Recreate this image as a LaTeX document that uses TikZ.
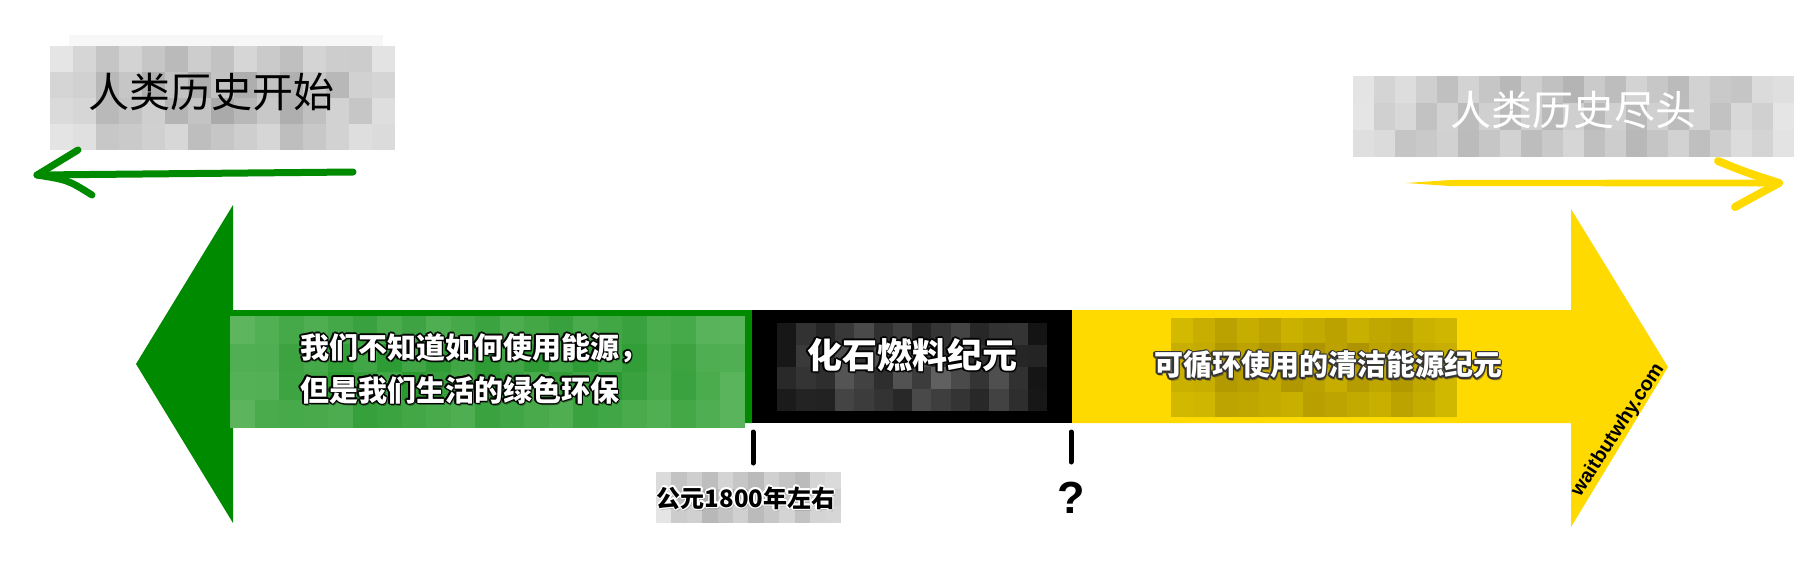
\documentclass[tikz,border=0pt]{standalone}
\usepackage{fontspec}
\setmainfont{Liberation Sans}
\newfontfamily\cjk{Noto Sans CJK SC}
\definecolor{grn}{HTML}{008A00}
\definecolor{ylw}{HTML}{FFDA00}
\definecolor{gL}{HTML}{66BB66}
\definecolor{gD}{HTML}{23952A}
\definecolor{kL}{HTML}{000000}
\definecolor{kD}{HTML}{6A6A6A}
\definecolor{yL}{HTML}{DCC300}
\definecolor{yD}{HTML}{A88F00}
\definecolor{wL}{HTML}{F2F2F2}
\definecolor{wD}{HTML}{A4A4A4}
% mosaic: x0,y0,cellw,cellh,imax,jmax,light,dark,seed
\newcommand\mosaic[9]{%
  \foreach \i in {0,...,#5}{\foreach \j in {0,...,#6}{%
    \pgfmathtruncatemacro\rr{mod(\i*37+\j*71+\i*\j*13+#9,100)}%
    \pgfmathsetmacro\uu{(\i+0.5)/(#5+1)*2-1}%
    \pgfmathsetmacro\vv{(\j+0.5)/(#6+1)*2-1}%
    \pgfmathtruncatemacro\pp{(0.55*\rr+45)*(1-0.75*\uu*\uu*\uu*\uu)*(1-0.45*\vv*\vv)}%
    \fill[#8!\pp!#7] (#1+\i*#3,#2+\j*#4) rectangle ++(#3,#4);
  }}}
% halo text: name, position, font, text colour, halo colour, text, anchor
\newcommand\halotext[7]{%
  \node[font=#3,text=#5,opacity=0.45,inner sep=0,anchor=#7,shift={(1.5pt,-2.5pt)}] at (#2) {#6};
  \foreach \a in {0,30,...,330}{%
    \node[font=#3,text=#5,opacity=0.8,inner sep=0,anchor=#7,shift={(\a:1.5pt)}] at (#2) {#6};}
  \node[font=#3,text=#4,inner sep=0,anchor=#7] (#1) at (#2) {#6};}
\tikzset{
  handline/.style={line width=7,line cap=round,line join=round},
  tick/.style={line width=5,line cap=round},
  toplabel/.style={font=\cjk\fontsize{41}{41}\selectfont,inner sep=0}
}
\begin{document}
\begin{tikzpicture}[x=1pt,y=-1pt]
\useasboundingbox (0,0) rectangle (1803,570);
\fill[white] (0,0) rectangle (1803,570);

% big arrows
\fill[grn] (752,310) -- (233,310) -- (233,205) -- (136,364) -- (233,523) -- (233,423) -- (752,423) -- cycle;
\fill[black] (752,310) rectangle (1072,423);
\fill[ylw] (1072,310) -- (1571,310) -- (1571,209) -- (1668,367) -- (1571,527) -- (1571,423) -- (1072,423) -- cycle;

% mosaics
\mosaic{50}{46}{23}{26}{14}{3}{wL}{wD}{11}
\fill[wL!60!white] (69,35) rectangle (383,46);
\mosaic{1353}{76}{21}{27}{20}{2}{wL}{wD}{29}
\mosaic{230}{316}{24.5}{28}{20}{3}{gL}{gD}{5}
\mosaic{777}{323}{19.3}{22}{13}{3}{kL}{kD}{43}
\mosaic{1171}{318}{22}{24.75}{12}{3}{yL}{yD}{17}
\mosaic{656}{472}{15.4}{17}{11}{2}{wL}{wD}{61}

% hand drawn arrows
\coordinate (gs) at (353,172);
\coordinate (gt) at (37,175);
\draw[handline,grn] (gs) -- (gt);
\draw[handline,grn] (78,150) .. controls (58,163) .. (gt) .. controls (68,180) .. (92,195);
\coordinate (ys) at (1406,183);
\coordinate (yt) at (1779,183);
\fill[ylw] (ys) -- (1450,180) -- (1760,179.5) -- (1779,180) -- (1779,186) -- (1760,186.5) -- (1450,186) -- cycle;
\draw[handline,ylw,line width=8] (1718,161) .. controls (1745,172) .. (yt) .. controls (1755,196) .. (1735,207);

% top labels
\node[toplabel] (start) at (211,92) {人类历史开始};
\node[toplabel,text=white] (end) at (1573,110) {人类历史尽头};

% arrow texts
\halotext{green1}{300,348}{\cjk\bfseries\fontsize{29}{29}\selectfont}{white}{black}{我们不知道如何使用能源，}{west}
\halotext{green2}{300,390}{\cjk\bfseries\fontsize{29}{29}\selectfont}{white}{black}{但是我们生活的绿色环保}{west}
\halotext{blacktext}{912,355}{\cjk\bfseries\fontsize{35}{35}\selectfont}{white}{black}{化石燃料纪元}{center}
\halotext{yellowtext}{1328,365}{\cjk\bfseries\fontsize{29}{29}\selectfont}{white}{black!80}{可循环使用的清洁能源纪元}{center}

% ticks and labels
\coordinate (t1a) at (753,432); \coordinate (t1b) at (753,463);
\coordinate (t2a) at (1071,432); \coordinate (t2b) at (1071,462);
\draw[tick] (t1a) -- (t1b);
\draw[tick] (t2a) -- (t2b);
\node[font=\cjk\bfseries\fontsize{24}{24}\selectfont,text=black!40,opacity=0.5,inner sep=0,shift={(1.5pt,-2.5pt)}] at (746,498) {公元1800年左右};
\foreach \a in {0,30,...,330}{\node[font=\cjk\bfseries\fontsize{24}{24}\selectfont,text=white,inner sep=0,shift={(\a:1.5pt)}] at (746,498) {公元1800年左右};}
\node[font=\cjk\bfseries\fontsize{24}{24}\selectfont,inner sep=0] (year) at (746,498) {公元1800年左右};
\node[font=\bfseries\fontsize{45}{45}\selectfont,inner sep=0] (q) at (1071,498) {?};
\node[font=\bfseries\fontsize{20}{20}\selectfont,rotate=57,inner sep=0] (wbw) at (1618,430) {waitbutwhy.com};
\end{tikzpicture}
\end{document}
